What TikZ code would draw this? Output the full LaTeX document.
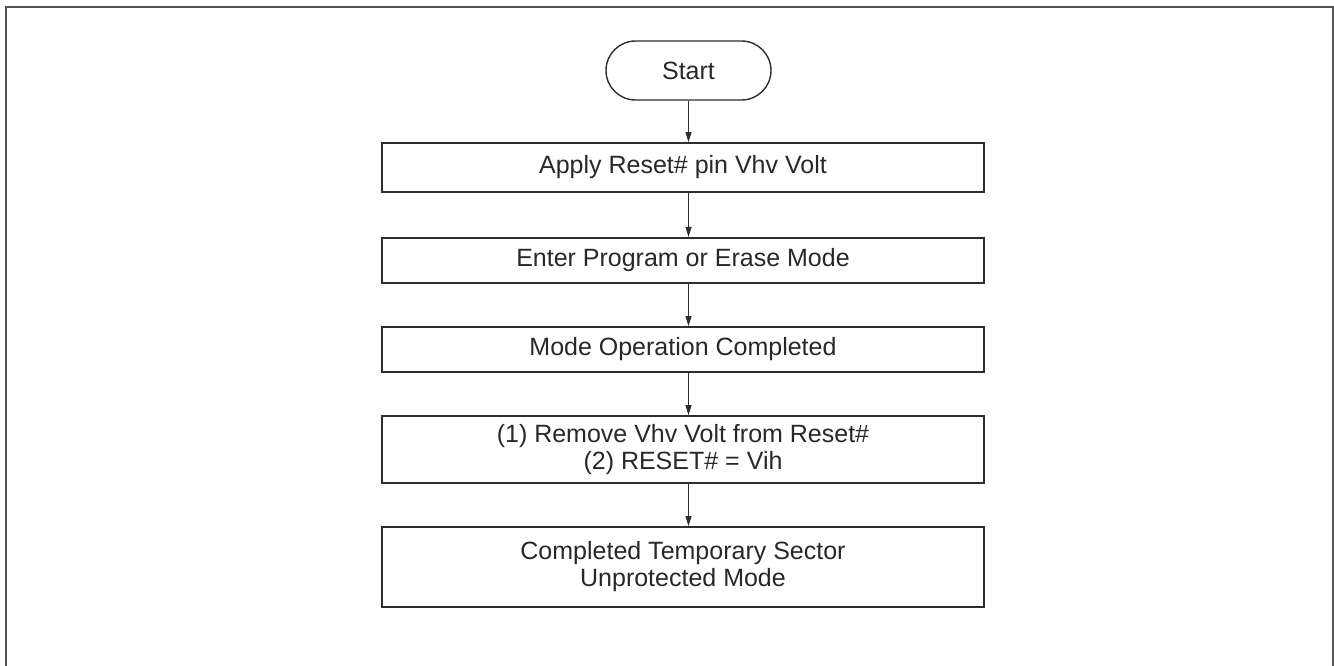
\documentclass[tikz,border=0pt]{standalone}
\usepackage{fontspec}
\setmainfont{Liberation Sans}
\usetikzlibrary{arrows.meta,shapes.misc}

\definecolor{boxline}{RGB}{45,45,45}
\definecolor{frameline}{RGB}{85,85,85}
\definecolor{txtgray}{RGB}{40,40,40}

\tikzset{
  stepbox/.style={draw=boxline,line width=1.8pt,minimum width=602,inner sep=0pt,align=center,text=txtgray,font=\fontsize{25}{27}\selectfont},
  termbox/.style={draw=boxline,line width=1.4pt,rounded rectangle,minimum width=165,minimum height=59,inner sep=0pt,text=txtgray,font=\fontsize{25}{27}\selectfont},
  arr/.style={draw=boxline,line width=0.9pt,-{Triangle[length=10pt,width=6pt]}}
}

\begin{document}
\begin{tikzpicture}[x=1pt,y=1pt,yscale=-1,xscale=1]
\useasboundingbox (0,0) rectangle (1334,665);

%Shape: Frame
\draw [frameline,line width=1.8pt] (6,666) -- (6,7) -- (1333,7) -- (1333,666) ;

% Text Node
\draw (688.5,70.5) node [termbox] (start) {Start};
% Text Node
\draw (683,167.5) node [stepbox,minimum height=49] (apply) {Apply Reset\# pin Vhv Volt};
% Text Node
\draw (683,260.3) node [stepbox,minimum height=45] (enter) {Enter Program or Erase Mode};
% Text Node
\draw (683,349.5) node [stepbox,minimum height=45] (done) {Mode Operation Completed};
% Text Node
\draw (683,449.5) node [stepbox,minimum height=67] (remove) {(1) Remove Vhv Volt from Reset\#\\(2) RESET\# = Vih};
% Text Node
\draw (683,567) node [stepbox,minimum height=80] (finish) {Completed Temporary Sector\\Unprotected Mode};

%Straight Lines
\draw [arr] (start.south) -- (start.south |- apply.north) ;
\draw [arr] (start.south |- apply.south) -- (start.south |- enter.north) ;
\draw [arr] (start.south |- enter.south) -- (start.south |- done.north) ;
\draw [arr] (start.south |- done.south) -- (start.south |- remove.north) ;
\draw [arr] (start.south |- remove.south) -- (start.south |- finish.north) ;

\end{tikzpicture}
\end{document}
